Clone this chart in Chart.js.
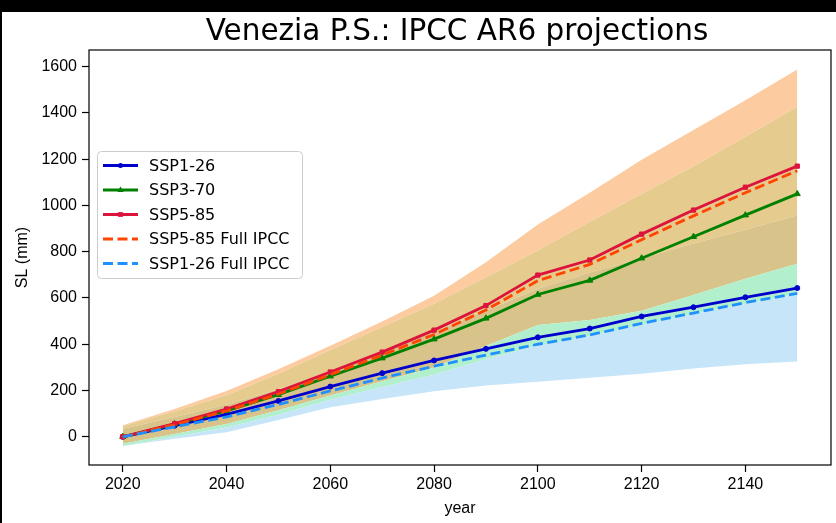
<!DOCTYPE html>
<html>
<head>
<meta charset="utf-8">
<script src="https://cdn.jsdelivr.net/npm/chart.js@4.4.1/dist/chart.umd.min.js"></script>
<style>
    html, body { margin: 0; padding: 0; background: #fff; }
    canvas { display: block; }
</style>
</head>
<body>
<canvas id="myChart" width="836" height="523"></canvas>
<script>
// valores (mm)
var years = [2020, 2030, 2040, 2050, 2060, 2070, 2080, 2090, 2100, 2110, 2120, 2130, 2140, 2150];
var ssp126 = [0, 48, 97, 155, 217, 275, 330, 380, 430, 468, 520, 560, 603, 643];
var ssp370 = [0, 55, 112, 182, 262, 340, 422, 512, 615, 676, 772, 865, 958, 1050];
var ssp585 = [0, 57, 120, 195, 280, 366, 461, 567, 699, 764, 876, 980, 1079, 1170];
var ssp585Full = [0, 52, 112, 185, 268, 353, 442, 548, 675, 745, 852, 955, 1055, 1150];
var ssp126Full = [0, 43, 86, 140, 198, 254, 305, 353, 400, 440, 490, 535, 580, 620];

// faixas de incerteza
var ssp126Low = [-40, -8, 20, 72, 128, 163, 197, 222, 238, 255, 272, 295, 313, 325];
var ssp126High = [35, 85, 140, 205, 280, 365, 455, 545, 640, 710, 772, 835, 895, 958];
var ssp370Low = [-40, 0, 40, 95, 160, 215, 268, 335, 395, 435, 485, 530, 575, 615];
var ssp370High = [45, 110, 180, 272, 375, 475, 575, 690, 805, 930, 1050, 1170, 1297, 1427];
var ssp585Low = [-30, 12, 55, 115, 178, 240, 300, 392, 483, 505, 545, 613, 683, 748];
var ssp585High = [50, 120, 198, 292, 393, 498, 610, 755, 918, 1055, 1198, 1326, 1455, 1588];

var yearTicks = [2020, 2040, 2060, 2080, 2100, 2120, 2140];
var slTicks = [0, 200, 400, 600, 800, 1000, 1200, 1400, 1600];

var legendLabels = ['SSP1-26', 'SSP3-70', 'SSP5-85', 'SSP5-85 Full IPCC', 'SSP1-26 Full IPCC'];

function pontos(values) {
    return years.map(function (y, i) { return {x: y, y: values[i]}; });
}

function linha(label, values, color, dash, marker, radius, order) {
    return {
        label: label,
        data: pontos(values),
        borderColor: color,
        backgroundColor: color,
        borderWidth: 2.8,
        borderDash: dash,
        pointStyle: marker,
        pointRadius: radius,
        pointBorderWidth: 1,
        fill: false,
        order: order
    };
}

function faixa(values, fillColor) {
    return {
        label: '',
        data: pontos(values),
        borderColor: 'transparent',
        borderWidth: 0,
        backgroundColor: fillColor,
        pointRadius: 0,
        fill: fillColor ? '-1' : false,
        order: 10
    };
}

var fundo = {
    id: 'fundo',
    beforeDraw: function (chart) {
        var ctx = chart.ctx;
        ctx.save();
        ctx.fillStyle = '#fff';
        ctx.fillRect(0, 0, chart.width, chart.height);
        ctx.restore();
    },
    afterDraw: function (chart) {
        var ctx = chart.ctx;
        var a = chart.chartArea;
        ctx.save();
        // moldura do grafico
        ctx.strokeStyle = '#000';
        ctx.lineWidth = 1.2;
        ctx.strokeRect(a.left, a.top, a.right - a.left, a.bottom - a.top);
        // titulo
        ctx.fillStyle = '#000';
        ctx.font = '29.5px "DejaVu Sans"';
        ctx.textAlign = 'center';
        ctx.textBaseline = 'alphabetic';
        ctx.fillText('Venezia P.S.: IPCC AR6 projections', (a.left + a.right) / 2 - 3, 40);
        // bordas pretas do print
        ctx.fillStyle = '#000';
        ctx.fillRect(0, 0, chart.width, 12);
        ctx.fillRect(0, 0, 2, chart.height);
        ctx.restore();
    }
};

function marcador(ctx, style, x, y, r) {
    ctx.beginPath();
    if (style === 'triangle') {
        ctx.moveTo(x, y - r);
        ctx.lineTo(x + r * 0.9, y + r * 0.6);
        ctx.lineTo(x - r * 0.9, y + r * 0.6);
        ctx.closePath();
    } else if (style === 'rect') {
        ctx.rect(x - r * 0.8, y - r * 0.8, r * 1.6, r * 1.6);
    } else {
        ctx.arc(x, y, r, 0, Math.PI * 2);
    }
    ctx.fill();
}

var legenda = {
    id: 'legenda',
    afterDatasetsDraw: function (chart) {
        var ctx = chart.ctx;
        var a = chart.chartArea;
        var x0 = a.left + 8, y0 = a.top + 101, w = 205, h = 127;
        ctx.save();
        ctx.fillStyle = 'rgba(255,255,255,0.8)';
        ctx.strokeStyle = '#cccccc';
        ctx.lineWidth = 1;
        ctx.beginPath();
        ctx.roundRect(x0 + 0.5, y0 + 0.5, w, h, 4);
        ctx.fill();
        ctx.stroke();
        ctx.font = '16px "DejaVu Sans"';
        ctx.textBaseline = 'middle';
        ctx.textAlign = 'left';
        for (var i = 0; i < legendLabels.length; i++) {
            var ds = chart.data.datasets[i];
            var yy = y0 + 14.5 + i * 24.5;
            ctx.strokeStyle = ds.borderColor;
            ctx.fillStyle = ds.borderColor;
            ctx.lineWidth = ds.borderWidth;
            ctx.setLineDash(ds.borderDash || []);
            ctx.beginPath();
            ctx.moveTo(x0 + 6, yy);
            ctx.lineTo(x0 + 41, yy);
            ctx.stroke();
            ctx.setLineDash([]);
            if (ds.pointRadius > 0) {
                marcador(ctx, ds.pointStyle, x0 + 23.5, yy, ds.pointRadius);
            }
            ctx.fillStyle = '#000';
            ctx.fillText(legendLabels[i], x0 + 52, yy + 1);
        }
        ctx.restore();
    }
};

var ctx = document.getElementById('myChart').getContext('2d');
var myChart = new Chart(ctx, {
    type: 'line',
    data: {
        datasets: [
            linha(legendLabels[0], ssp126, '#0000cd', [], 'circle', 2.5, 4),
            linha(legendLabels[1], ssp370, '#008000', [], 'triangle', 3.5, 3),
            linha(legendLabels[2], ssp585, '#dc143c', [], 'rect', 3, 2),
            linha(legendLabels[3], ssp585Full, '#ff4500', [10, 4.5], 'circle', 0, 1),
            linha(legendLabels[4], ssp126Full, '#1e90ff', [10, 4.5], 'circle', 0, 0),
            faixa(ssp126Low, null),
            faixa(ssp370Low, '#c6e5f9'),
            faixa(ssp585Low, '#b2efcc'),
            faixa(ssp126High, '#d8c48b'),
            faixa(ssp370High, '#e6cb8e'),
            faixa(ssp585High, '#fdcba0')
        ]
    },
    options: {
        responsive: false,
        animation: false,
        devicePixelRatio: 1,
        layout: { padding: { top: 50, right: 5, bottom: 0, left: 0 } },
        plugins: {
            legend: { display: false },
            title: { display: false },
            tooltip: { enabled: false }
        },
        elements: { line: { tension: 0 } },
        scales: {
            x: {
                type: 'linear',
                min: 2013.5,
                max: 2156.5,
                afterBuildTicks: function (scale) {
                    scale.ticks = yearTicks.map(function (v) { return {value: v}; });
                },
                afterFit: function (scale) { scale.height = 58; },
                ticks: {
                    color: '#000',
                    font: { size: 16 },
                    padding: 3,
                    maxRotation: 0,
                    autoSkip: false,
                    callback: function (v) { return String(v); }
                },
                grid: { display: true, drawOnChartArea: false, drawTicks: true, tickLength: 7, tickColor: '#000', tickWidth: 1.2 },
                border: { display: false },
                title: { display: true, text: 'year', color: '#000', font: { size: 16 }, padding: { top: 0, bottom: 5 } }
            },
            y: {
                type: 'linear',
                min: -122,
                max: 1672,
                afterBuildTicks: function (scale) {
                    scale.ticks = slTicks.map(function (v) { return {value: v}; });
                },
                afterFit: function (scale) { scale.width = 89; },
                ticks: {
                    color: '#000',
                    font: { size: 16 },
                    padding: 5,
                    callback: function (v) { return String(v); }
                },
                grid: { display: true, drawOnChartArea: false, drawTicks: true, tickLength: 7, tickColor: '#000', tickWidth: 1.2 },
                border: { display: false },
                title: { display: true, text: 'SL (mm)', color: '#000', font: { size: 16 }, padding: { top: 13, bottom: 0 } }
            }
        }
    },
    plugins: [fundo, legenda]
});
</script>
</body>
</html>
